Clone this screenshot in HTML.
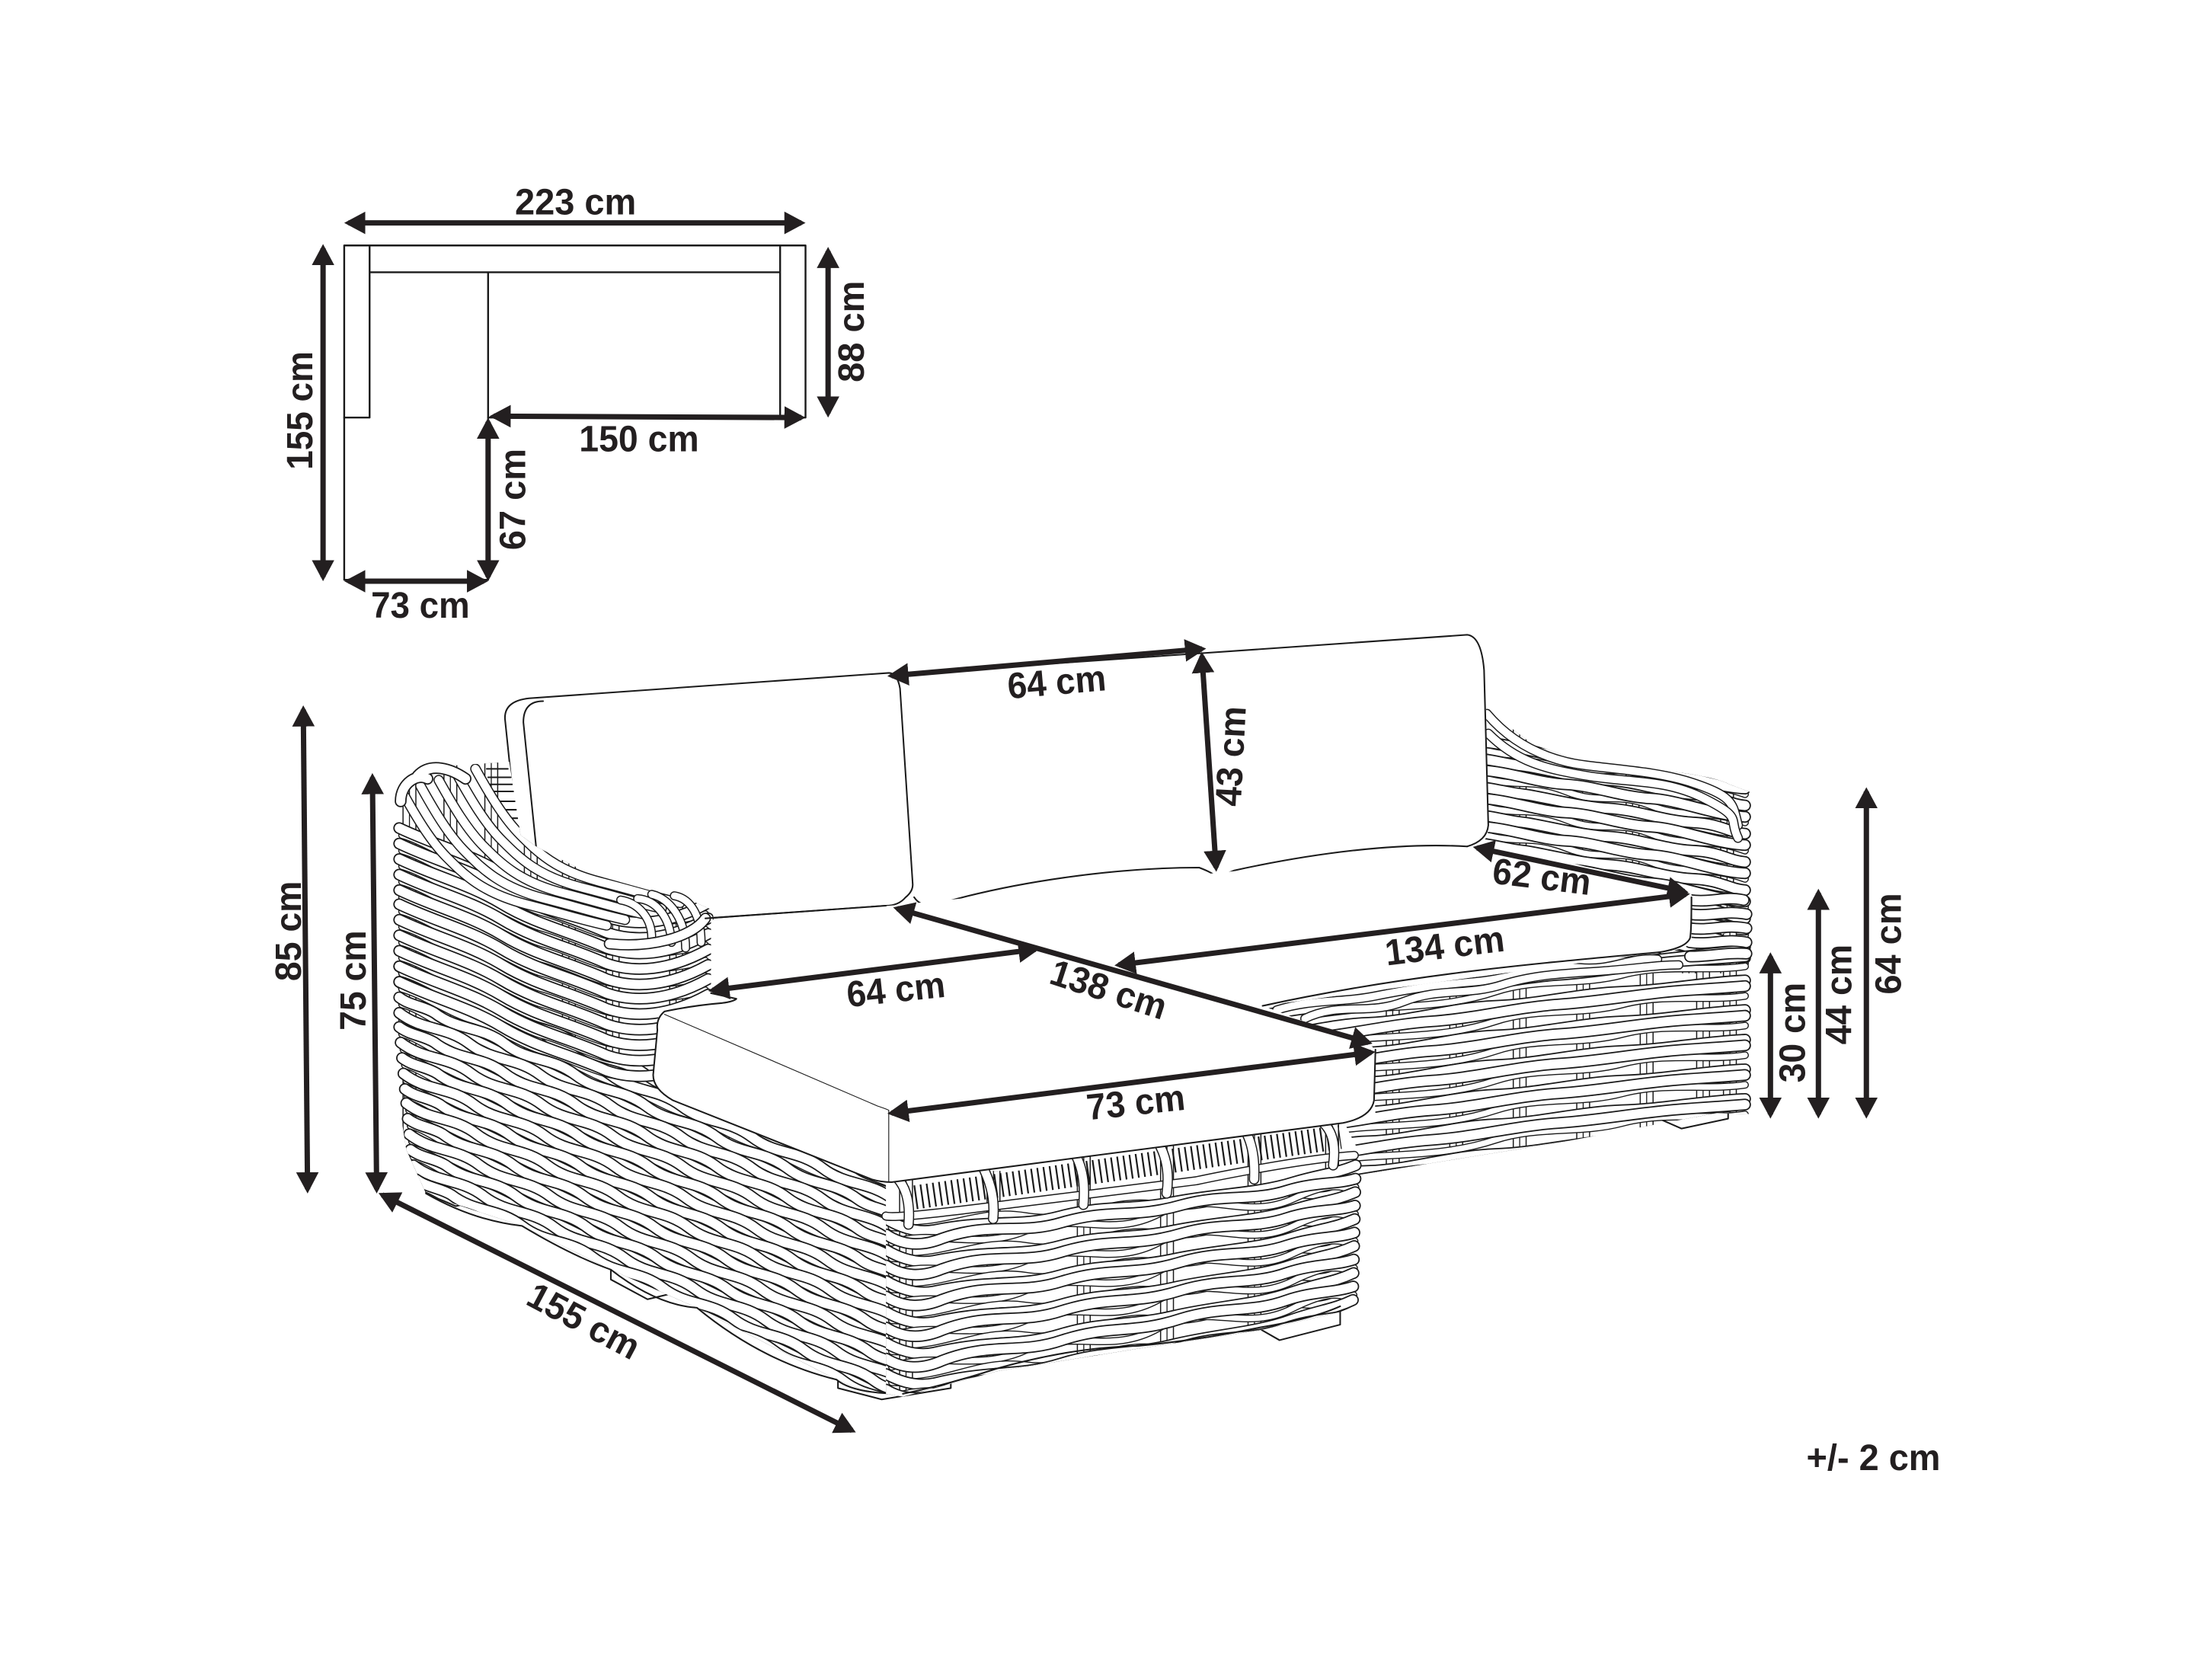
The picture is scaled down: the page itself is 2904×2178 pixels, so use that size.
<!DOCTYPE html>
<html><head><meta charset="utf-8"><style>
html,body{margin:0;padding:0;background:#fff}
svg{display:block}
text{font-family:"Liberation Sans",sans-serif;font-weight:bold;font-size:26px;fill:#231f20;text-anchor:middle}
.k{fill:none;stroke:#1a1a1a;stroke-width:8.4;stroke-linecap:round;stroke-linejoin:round}
.w{fill:none;stroke:#fff;stroke-width:6.5;stroke-linecap:round;stroke-linejoin:round}
.k2{fill:none;stroke:#1a1a1a;stroke-width:5.4;stroke-linecap:round}
.w2{fill:none;stroke:#fff;stroke-width:3.9;stroke-linecap:round}
.sk{fill:none;stroke:#1a1a1a;stroke-width:5.4}
.sw{fill:none;stroke:#fff;stroke-width:3.8}
.l{fill:none;stroke:#1a1a1a;stroke-width:1.1;stroke-linecap:round;stroke-linejoin:round}
.t{fill:none;stroke:#1a1a1a;stroke-width:.6}
.a{fill:none;stroke:#231f20;stroke-width:3.8;marker-start:url(#h);marker-end:url(#h)}
</style></head><body>
<svg xmlns="http://www.w3.org/2000/svg" width="2904" height="2178" viewBox="0 0 1568 1176">
<defs>
<marker id="h" markerUnits="userSpaceOnUse" orient="auto-start-reverse" markerWidth="18" markerHeight="18" refX="12" refY="9" viewBox="0 0 18 18"><path d="M0,1 L15,9 L0,17Z" fill="#231f20"/></marker>

<!-- arm rows -->
<g id="p1a"><path class="k2" d="M285,5c15,4 35,18 50,22 15,4 35,18 50,22 15,4 30,12 45,16s50,2 70,-4"/><path class="w2" d="M285,5c15,4 35,18 50,22 15,4 35,18 50,22 15,4 30,12 45,16s50,2 70,-4"/><path class="k" d="M283,0c25,12 50,18 73,32s50,20 74,31c20,7 45,5 72,-10"/><path class="w" d="M283,0c25,12 50,18 73,32s50,20 74,31c20,7 45,5 72,-10"/></g>
<!-- side rows -->
<g id="p2a"><path class="k2" d="M285,5c15,4 35,18 50,22 15,4 35,18 50,22 15,4 35,18 50,22 15,4 35,18 50,22 15,4 35,18 50,22 15,4 35,18 50,22 15,4 35,18 50,22"/><path class="w2" d="M285,5c15,4 35,18 50,22 15,4 35,18 50,22 15,4 35,18 50,22 15,4 35,18 50,22 15,4 35,18 50,22 15,4 35,18 50,22 15,4 35,18 50,22"/><path class="k" d="M283,0c17,13 33,9 50,22 17,13 33,9 50,22 17,13 33,9 50,22 17,13 33,9 50,22 17,13 33,9 50,22 17,13 33,9 50,22 17,13 33,9 50,22"/><path class="w" d="M283,0c17,13 33,9 50,22 17,13 33,9 50,22 17,13 33,9 50,22 17,13 33,9 50,22 17,13 33,9 50,22 17,13 33,9 50,22 17,13 33,9 50,22"/></g>
<g id="p2b"><path class="k2" d="M285,5c15,4 30,18 45,22 15,4 35,18 50,22 15,4 35,18 50,22 15,4 35,18 50,22 15,4 35,18 50,22 15,4 35,18 50,22 15,4 35,18 50,22"/><path class="w2" d="M285,5c15,4 30,18 45,22 15,4 35,18 50,22 15,4 35,18 50,22 15,4 35,18 50,22 15,4 35,18 50,22 15,4 35,18 50,22 15,4 35,18 50,22"/><path class="k" d="M283,0c8,6 17,6 25,11 17,13 33,9 50,22 17,13 33,9 50,22 17,13 33,9 50,22 17,13 33,9 50,22 17,13 33,9 50,22 17,13 33,9 50,22 8,6 17,6 25,11"/><path class="w" d="M283,0c8,6 17,6 25,11 17,13 33,9 50,22 17,13 33,9 50,22 17,13 33,9 50,22 17,13 33,9 50,22 17,13 33,9 50,22 17,13 33,9 50,22 8,6 17,6 25,11"/></g>
<!-- fan -->
<g id="fan"><path class="k" style="stroke-width:7.4" d="M337,545c10,18 20,35 32,47s25,25 56,33s35,10 57,15"/><path class="w" style="stroke-width:5.8" d="M337,545c10,18 20,35 32,47s25,25 56,33s35,10 57,15"/></g>
<!-- front rows -->
<g id="p3a"><path class="k2" d="M632,6c40,4 60,-14 95,-8s60,-14 95,-8s60,-14 95,-8s35,-8 44,-10"/><path class="w2" d="M632,6c40,4 60,-14 95,-8s60,-14 95,-8s60,-14 95,-8s35,-8 44,-10"/><path class="k" d="M628,0c10,6 22,10 34,8c40,-8 60,-2 90,-10c30,-8 50,-4 80,-10c30,-6 60,-6 85,-14c20,-6 30,-6 44,-12"/><path class="w" d="M628,0c10,6 22,10 34,8c40,-8 60,-2 90,-10c30,-8 50,-4 80,-10c30,-6 60,-6 85,-14c20,-6 30,-6 44,-12"/></g>
<g id="p3b"><path class="k2" d="M632,6c30,-10 60,6 95,-8s60,6 95,-12s60,6 95,-10s35,-4 44,-8"/><path class="w2" d="M632,6c30,-10 60,6 95,-8s60,6 95,-12s60,6 95,-10s35,-4 44,-8"/><path class="k" d="M628,0c12,8 25,9 40,3c35,-12 55,-2 85,-11c35,-10 50,-2 85,-12c30,-8 50,-2 75,-10c20,-6 35,-4 48,-8"/><path class="w" d="M628,0c12,8 25,9 40,3c35,-12 55,-2 85,-11c35,-10 50,-2 85,-12c30,-8 50,-2 75,-10c20,-6 35,-4 48,-8"/></g>
<!-- right front rows -->
<g id="p5a"><path class="k2" d="M880,5c30,-12 60,-2 90,-12s60,-4 90,-12s60,-2 90,-10s60,-3 87,-8"/><path class="w2" d="M880,5c30,-12 60,-2 90,-12s60,-4 90,-12s60,-2 90,-10s60,-3 87,-8"/><path class="k" d="M880,0c30,-1 60,-11 90,-12s60,-11 90,-12s60,-9 90,-10s60,-7 87,-8"/><path class="w" d="M880,0c30,-1 60,-11 90,-12s60,-11 90,-12s60,-9 90,-10s60,-7 87,-8"/></g>
<g id="p5b"><path class="k2" d="M880,1c30,-4 60,-10 90,-12s60,-2 90,-12s60,-4 90,-12s60,-2 87,-6"/><path class="w2" d="M880,1c30,-4 60,-10 90,-12s60,-2 90,-12s60,-4 90,-12s60,-2 87,-6"/><path class="k" d="M880,-5c15,-1 30,-4 45,-6c30,-2 60,-10 90,-12s60,-10 90,-12s60,-8 90,-10s30,-2 42,-3"/><path class="w" d="M880,-5c15,-1 30,-4 45,-6c30,-2 60,-10 90,-12s60,-10 90,-12s60,-8 90,-10s30,-2 42,-3"/></g>
<!-- right arm rows -->
<g id="p6a"><path class="k2" d="M1050,5c25,8 35,0 60,10s35,0 60,10s40,2 67,12"/><path class="w2" d="M1050,5c25,8 35,0 60,10s35,0 60,10s40,2 67,12"/><path class="k" d="M1050,0c20,1 40,9 60,10s40,9 60,10s45,12 67,13"/><path class="w" d="M1050,0c20,1 40,9 60,10s40,9 60,10s45,12 67,13"/></g>
<g id="p6b"><path class="k2" d="M1050,7c25,-2 35,10 60,8s35,10 60,10s40,10 67,10"/><path class="w2" d="M1050,7c25,-2 35,10 60,8s35,10 60,10s40,10 67,10"/><path class="k" d="M1050,2c10,1 20,4 30,5s40,9 60,10s40,9 60,10s25,7 37,8"/><path class="w" d="M1050,2c10,1 20,4 30,5s40,9 60,10s40,9 60,10s25,7 37,8"/></g>

<clipPath id="cl"><path d="M270,575L285,558L301,544L361,540L369,592L380,600L407,614L428,622L464,632L482,635L505,645L515,720L640,838L640,990L611,985L593,978L494,927L433,900L370,869L321,853L302,846L288,815L270,700Z"/></clipPath>
<clipPath id="cf"><path d="M628,836L952,794L975,800L975,920L950,930L893,943L807,956L707,972L640,990L628,988Z"/></clipPath>
<clipPath id="cr"><path d="M890,712L1180,672L1250,655L1250,790L1217,789L1105,810L962,833L950,833Z"/></clipPath>
<clipPath id="ca"><path d="M1050,500L1087,528C1110,535 1130,545 1150,545C1180,545 1215,550 1226,556L1250,565L1250,690L1050,690Z"/></clipPath>
</defs>

<rect width="1568" height="1176" fill="#fff"/>

<!-- plan -->
<g class="l" style="stroke-width:1.3">
<path d="M244,174H571V296H346V411H244Z"/>
<path d="M262,174V296H244M262,193H553M553,174V296M346,193V296"/>
</g>

<!-- feet -->
<g class="l" style="fill:#fff">
<path d="M302,835V846L323,855L345,850L345,840Z"/>
<path d="M433,895V907L459,921L480,916L480,900Z"/>
<path d="M594,970V984L625,992L674,984V965Z"/>
<path d="M893,935V942L907,950L950,939V920Z"/>
<path d="M1176,785V793L1192,800L1225,793V775Z"/>
</g>

<!-- right arm -->
<path d="M1052,500L1087,528C1110,535 1130,545 1150,545C1180,545 1215,550 1226,556L1238,570L1240,660L1235,782L1217,787L1105,808L962,831L950,800L894,712L1052,600Z" fill="#fff"/>
<g clip-path="url(#ca)">
<path class="sk" d="M1075,500V700M1079.500,500V700M1115,500V700M1119.500,500V700M1155,500V700M1159.500,500V700M1195,500V700M1199.500,500V700M1222,500V700M1226.500,500V700"/>
<path class="sw" d="M1075,500V700M1079.500,500V700M1115,500V700M1119.500,500V700M1155,500V700M1159.500,500V700M1195,500V700M1199.500,500V700M1222,500V700M1226.500,500V700"/>
<use href="#p6a" y="526"/><use href="#p6b" y="536"/><use href="#p6a" y="546"/><use href="#p6b" y="556"/><use href="#p6a" y="566"/><use href="#p6b" y="576"/><use href="#p6a" y="586"/><use href="#p6b" y="596"/><use href="#p6a" y="606"/><use href="#p6b" y="616"/><use href="#p6a" y="626"/><use href="#p6b" y="636"/><use href="#p6a" y="646"/>
</g>
<g>
<path class="k" style="stroke-width:7" d="M1054,506C1070,525 1090,535 1110,540S1170,545 1200,555S1228,570 1232,585"/>
<path class="w" style="stroke-width:5.4" d="M1054,506C1070,525 1090,535 1110,540S1170,545 1200,555S1228,570 1232,585"/>
<path class="k" style="stroke-width:7" d="M1055,520C1075,540 1095,545 1125,550S1180,552 1208,566S1225,580 1232,594"/>
<path class="w" style="stroke-width:5.4" d="M1055,520C1075,540 1095,545 1125,550S1180,552 1208,566S1225,580 1232,594"/>
</g>

<!-- right body -->
<g clip-path="url(#cr)">
<path class="sk" d="M985,690V850M989.500,690V850M1030,690V850M1034.500,690V850M1075,690V850M1079.500,690V850M1120,690V850M1124.500,690V850M1165,690V850M1169.500,690V850M1205,660V850M1209.500,660V850M1224,660V850M1228.500,660V850"/>
<path class="sw" d="M985,690V850M989.500,690V850M1030,690V850M1034.500,690V850M1075,690V850M1079.500,690V850M1120,690V850M1124.500,690V850M1165,690V850M1169.500,690V850M1205,660V850M1209.500,660V850M1224,660V850M1228.500,660V850"/>
<use href="#p5a" y="716"/><use href="#p5b" y="726"/><use href="#p5a" y="737"/><use href="#p5b" y="747"/><use href="#p5a" y="758"/><use href="#p5b" y="768"/><use href="#p5a" y="779"/><use href="#p5b" y="789"/><use href="#p5a" y="800"/><use href="#p5b" y="810"/><use href="#p5a" y="821"/><use href="#p5b" y="831"/><use href="#p5a" y="842"/><use href="#p5b" y="852"/>
</g>
<path class="k" style="stroke-width:6.6" d="M905,716c25,-8 45,-5 70,-10s45,-8 70,-10s50,-12 75,-10s35,-8 55,-6"/>
<path class="w" style="stroke-width:5" d="M905,716c25,-8 45,-5 70,-10s45,-8 70,-10s50,-12 75,-10s35,-8 55,-6"/>
<path class="k" style="stroke-width:6.6" d="M925,722c25,-12 45,-2 70,-12s45,-4 70,-12s50,-8 75,-10s35,-4 50,-4"/>
<path class="w" style="stroke-width:5" d="M925,722c25,-12 45,-2 70,-12s45,-4 70,-12s50,-8 75,-10s35,-4 50,-4"/>
<path class="k" d="M1198,638c15,2 25,-3 38,0M1198,648c15,2 25,-3 40,0M1198,658c15,2 25,-3 40,0M1198,668c15,2 25,-3 40,0M1198,678c15,0 25,-3 40,-2"/>
<path class="w" d="M1198,638c15,2 25,-3 38,0M1198,648c15,2 25,-3 40,0M1198,658c15,2 25,-3 40,0M1198,668c15,2 25,-3 40,0M1198,678c15,0 25,-3 40,-2"/>

<!-- cushions fill -->
<path fill="#fff" d="M358,510Q358,498 372,496L630,477L1040,450Q1050,451 1053,480L1055,585Q1055,597 1050,595L1199,634L1199,668Q1194,674 1175,675L895,713L973,742L975,790L630,838L470,780L463,720L500,650Z"/>
<g class="l">
<path d="M366,587L358,510Q357,497 375,495L630,477Q636,477 638,488L647,627Q647,632 642,636Q637,642 628,642L500,651"/>
<path d="M380,600L371,512Q371,497 385,497"/>
<path d="M636,478L1040,450Q1050,451 1052,475L1055,585Q1054,596 1040,600"/>
<path d="M648,636Q654,645 668,640C720,625 790,615 850,615Q858,618 862,621Q868,620 875,617C930,605 990,597 1040,600"/>
<path d="M1199,636Q1199,660 1198,665Q1195,672 1176,675"/>
<path d="M1176,675C1100,682 1000,690 895,713"/>
<path d="M790,684C830,676 860,672 875,670" class="t"/>
</g>

<!-- left body -->
<path fill="#fff" d="M283,585L285,558L301,544L361,540L369,592L380,600L440,622L497,645L503,670L505,712L640,838L640,988L611,985L593,978L494,927L433,900L370,869L321,853L302,846L288,815L283,700Z"/>
<g clip-path="url(#cl)">
<path class="sk" d="M288,520V870M292.500,520V870M317,520V870M321.500,520V870M346,520V900M350.500,520V900M374,520V920M378.500,520V920M401,600V940M405.500,600V940M432,600V960M436.500,600V960M477,640V980M481.500,640V980M510,700V990M514.500,700V990M545,750V990M549.500,750V990M580,800V990M584.500,800V990M615,800V990M619.500,800V990"/>
<path class="sw" d="M288,520V870M292.500,520V870M317,520V870M321.500,520V870M346,520V900M350.500,520V900M374,520V920M378.500,520V920M401,600V940M405.500,600V940M432,600V960M436.500,600V960M477,640V980M481.500,640V980M510,700V990M514.500,700V990M545,750V990M549.500,750V990M580,800V990M584.500,800V990M615,800V990M619.500,800V990"/>
<path class="l" d="M345,545H360M346,551H362M347,556H363M349,561H364M352,568H365M356,574H366M360,580H367"/>
<use href="#p2b" y="685"/><use href="#p2a" y="696"/>
<use href="#p1a" y="587"/><use href="#p1a" y="598"/><use href="#p1a" y="609"/><use href="#p1a" y="620"/><use href="#p1a" y="631"/><use href="#p1a" y="641"/><use href="#p1a" y="652"/><use href="#p1a" y="663"/><use href="#p1a" y="674"/><use href="#p1a" y="685"/><use href="#p1a" y="696"/>
<use href="#p2b" y="707"/><use href="#p2a" y="718"/><use href="#p2b" y="728"/><use href="#p2a" y="739" x="1"/><use href="#p2b" y="750" x="2"/><use href="#p2a" y="761" x="3"/><use href="#p2b" y="772" x="4"/><use href="#p2a" y="782" x="5"/><use href="#p2b" y="793" x="6"/><use href="#p2a" y="804" x="7"/><use href="#p2b" y="815" x="8"/><use href="#p2a" y="826" x="10"/><use href="#p2b" y="836" x="12"/><use href="#p2a" y="847" x="15"/>
<use href="#fan" x="-52" y="16"/><use href="#fan" x="-39" y="12"/><use href="#fan" x="-26" y="8"/><use href="#fan" x="-13" y="4"/><use href="#fan"/>
</g>
<path class="k" style="stroke-width:6.4" d="M462,665C462,650 452,640 440,638M476,668C475,650 465,638 452,637M486,672C486,652 475,637 462,634M497,668C497,650 490,637 478,635"/>
<path class="w" style="stroke-width:4.8" d="M462,665C462,650 452,640 440,638M476,668C475,650 465,638 452,637M486,672C486,652 475,637 462,634M497,668C497,650 490,637 478,635"/>
<path class="k" d="M284,568C284,555 296,548 303,552M296,550C305,540 320,545 330,552"/>
<path class="w" d="M284,568C284,555 296,548 303,552M296,550C305,540 320,545 330,552"/>
<path class="k" style="stroke-width:8" d="M432,669C460,672 490,665 500,651"/>
<path class="w" style="stroke-width:6.2" d="M432,669C460,672 490,665 500,651"/>
<path class="l" d="M302,846Q335,865 370,869Q405,890 433,900Q465,925 494,927Q540,965 593,978Q605,988 640,988"/>

<!-- chaise front -->
<path fill="#fff" d="M628,838L952,794L962,814L962,910L950,928L893,941L807,954L707,970L640,988L628,980Z"/>
<g clip-path="url(#cf)">
<path class="sk" d="M640,830V1000M644.500,830V1000M702,830V990M706.500,830V990M766,800V980M770.500,800V980M825,800V970M829.500,800V970M887,790V950M891.500,790V950M942,790V940M946.500,790V940"/>
<path class="sw" d="M640,830V1000M644.500,830V1000M702,830V990M706.500,830V990M766,800V980M770.500,800V980M825,800V970M829.500,800V970M887,790V950M891.500,790V950M942,790V940M946.500,790V940"/>
<use href="#p3a" transform="translate(0,864)"/>
<use href="#p3b" transform="translate(0,875) rotate(-.25,628,0)"/>
<use href="#p3a" transform="translate(0,886) rotate(-.5,628,0)"/>
<use href="#p3b" transform="translate(0,897) rotate(-.75,628,0)"/>
<use href="#p3a" transform="translate(0,908) rotate(-1,628,0)"/>
<use href="#p3b" transform="translate(0,919) rotate(-1.25,628,0)"/>
<use href="#p3a" transform="translate(0,930) rotate(-1.5,628,0)"/>
<use href="#p3b" transform="translate(0,941) rotate(-1.75,628,0)"/>
<use href="#p3a" transform="translate(0,952) rotate(-2,628,0)"/>
<use href="#p3b" transform="translate(0,963) rotate(-2.25,628,0)"/>
<use href="#p3a" transform="translate(0,974) rotate(-2.5,628,0)"/>
<use href="#p3b" transform="translate(0,985) rotate(-2.75,628,0)"/>
</g>
<path class="l" d="M640,988Q670,982 707,970Q760,955 807,954Q850,950 893,941Q930,935 950,926"/>
<!-- rim -->
<path d="M640,850L950,806" fill="none" stroke="#1a1a1a" stroke-width="17" stroke-dasharray="1.2 3.2"/>
<path class="k" style="stroke-width:6.4" d="M628,862c8,2 60,-5 100,-10s120,-15 120,-15s70,-15 112,-18"/>
<path class="w" style="stroke-width:4.8" d="M628,862c8,2 60,-5 100,-10s120,-15 120,-15s70,-15 112,-18"/>
<path class="k" style="stroke-width:7.4" d="M636,835Q646,846 644,868M696,826Q706,845 704,864M762,818Q770,832 768,854M821,810Q830,825 827,846M883,802Q890,815 889,836M938,796Q948,805 945,826"/>
<path class="w" style="stroke-width:5.8" d="M636,835Q646,846 644,868M696,826Q706,845 704,864M762,818Q770,832 768,854M821,810Q830,825 827,846M883,802Q890,815 889,836M938,796Q948,805 945,826"/>

<!-- chaise cushion + seat -->
<path fill="#fff" d="M468,718L500,713L522,708L630,700L975,744L974,780Q972,792 952,796L632,838Q625,838 618,836L477,780Q463,772 463,762L466,730Q465,724 468,718Z"/>
<path fill="#fff" d="M504,652L631,642L1050,600L1199,634L1199,668L1176,675L895,713L975,744L630,786L468,721L504,706Z"/>
<path class="l" d="M500,651L628,642"/>
<path class="l" d="M1199,636Q1199,660 1198,665Q1195,672 1176,675"/>
<path class="l" d="M1176,675C1100,682 1000,690 895,713"/>
<g class="l">
<path d="M975,744L974,780Q972,792 952,796L632,838Q625,838 618,836L477,780Q463,772 463,762L466,730Q465,722 471,717C485,714 500,712 512,711Q520,710 522,708L504,704"/>
<path class="t" d="M471,719L622,784Q628,786 630,787V838"/>
</g>

<!-- dimensions -->
<path class="a" d="M247,158H568"/>
<path class="a" d="M229,176V409"/>
<path class="a" d="M587,178V293"/>
<path class="a" d="M350,295L568,296"/>
<path class="a" d="M346,299V409"/>
<path class="a" d="M247,412H343"/>
<path class="a" d="M632,479L852,460"/>
<path class="a" d="M852,465L862,615"/>
<path class="a" d="M1047,601L1194,632"/>
<path class="a" d="M793,684L1195,634"/>
<path class="a" d="M636,644L970,739"/>
<path class="a" d="M505,702L734,673"/>
<path class="a" d="M632,789L972,746"/>
<path class="a" d="M215,503L218,843"/>
<path class="a" d="M264,551L267,843"/>
<path class="a" d="M271,847L604,1014"/>
<path class="a" d="M1255,678V790"/>
<path class="a" d="M1289,633V790"/>
<path class="a" d="M1323,561V790"/>

<text x="408" y="152" textLength="86" lengthAdjust="spacingAndGlyphs">223 cm</text>
<text x="453" y="320" textLength="85" lengthAdjust="spacingAndGlyphs">150 cm</text>
<text x="298" y="438" textLength="70" lengthAdjust="spacingAndGlyphs">73 cm</text>
<text transform="translate(212,291) rotate(-90)" y="9.3" textLength="84" lengthAdjust="spacingAndGlyphs">155 cm</text>
<text transform="translate(603,235) rotate(-90)" y="9.3" textLength="72" lengthAdjust="spacingAndGlyphs">88 cm</text>
<text transform="translate(363,354) rotate(-90)" y="9.3" textLength="72" lengthAdjust="spacingAndGlyphs">67 cm</text>
<text transform="translate(749,483) rotate(-5)" y="9.3" textLength="70" lengthAdjust="spacingAndGlyphs">64 cm</text>
<text transform="translate(872,536) rotate(-87)" y="9.3" textLength="71" lengthAdjust="spacingAndGlyphs">43 cm</text>
<text transform="translate(1093,621) rotate(7)" y="9.3" textLength="70" lengthAdjust="spacingAndGlyphs">62 cm</text>
<text transform="translate(1024,670) rotate(-7)" y="9.3" textLength="85" lengthAdjust="spacingAndGlyphs">134 cm</text>
<text transform="translate(786,701) rotate(18)" y="9.3" textLength="85" lengthAdjust="spacingAndGlyphs">138 cm</text>
<text transform="translate(635,701) rotate(-6)" y="9.3" textLength="70" lengthAdjust="spacingAndGlyphs">64 cm</text>
<text transform="translate(805,781) rotate(-6)" y="9.3" textLength="70" lengthAdjust="spacingAndGlyphs">73 cm</text>
<text transform="translate(204,660) rotate(-90)" y="9.3" textLength="71" lengthAdjust="spacingAndGlyphs">85 cm</text>
<text transform="translate(250,695) rotate(-90)" y="9.3" textLength="71" lengthAdjust="spacingAndGlyphs">75 cm</text>
<text transform="translate(414,936) rotate(28)" y="9.3" textLength="86" lengthAdjust="spacingAndGlyphs">155 cm</text>
<text transform="translate(1270,732) rotate(-90)" y="9.3" textLength="71" lengthAdjust="spacingAndGlyphs">30 cm</text>
<text transform="translate(1303,705) rotate(-90)" y="9.3" textLength="71" lengthAdjust="spacingAndGlyphs">44 cm</text>
<text transform="translate(1338,669) rotate(-90)" y="9.3" textLength="72" lengthAdjust="spacingAndGlyphs">64 cm</text>
<text x="1328" y="1042" textLength="95" lengthAdjust="spacingAndGlyphs">+/- 2 cm</text>
</svg>
</body></html>
